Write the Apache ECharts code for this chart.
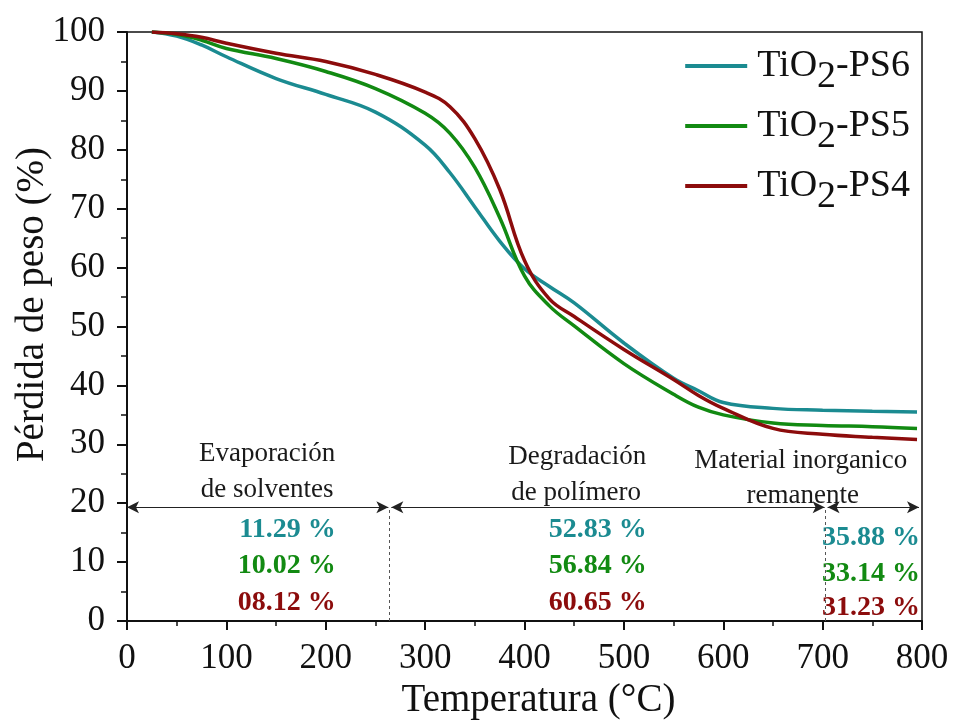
<!DOCTYPE html>
<html><head><meta charset="utf-8">
<script src="https://cdn.jsdelivr.net/npm/echarts@6/dist/echarts.min.js"></script>
<style>html,body{margin:0;padding:0;background:#fff}#c{width:955px;height:720px}</style>
</head><body><div id="c"></div>
<script>
const temps = [25, 50, 75, 100, 150, 200, 250, 300, 325, 350, 375, 400, 425, 450, 500, 550, 575, 600, 650, 700, 750, 795];
const ps6 = [100, 99.3, 97.8, 95.8, 92.1, 89.4, 86.4, 80.8, 76.1, 70.3, 64.5, 59.8, 56.8, 54.0, 47.2, 41.2, 39.1, 37.1, 36.1, 35.8, 35.6, 35.5];
const ps5 = [100, 99.6, 98.6, 97.2, 95.5, 93.3, 90.4, 86.2, 82.8, 77.0, 68.5, 58.6, 53.5, 50.1, 43.7, 38.5, 36.3, 35.0, 33.6, 33.2, 33.0, 32.7];
const ps4 = [100, 99.7, 99.1, 98.1, 96.4, 95.0, 92.8, 89.8, 87.3, 81.9, 73.3, 61.2, 54.7, 51.7, 46.1, 41.0, 38.3, 36.1, 32.7, 31.7, 31.2, 30.8];
const seriesNames = ['TiO2-PS6', 'TiO2-PS5', 'TiO2-PS4'];
const colors = ['#1b8b91', '#128a12', '#8c0c0c'];
const xTicks = [0, 100, 200, 300, 400, 500, 600, 700, 800];
const yTicks = [0, 10, 20, 30, 40, 50, 60, 70, 80, 90, 100];
// annotation content
const stageLines = [[0, 263], [266, 702], [705, 797]];
const stageY = 19.3;
const dividers = [264, 703];
const stageTitles = [
  [141, 28.4, 'Evaporación'], [141, 22.3, 'de solventes'],
  [453, 27.9, 'Degradación'], [452, 21.7, 'de polímero'],
  [678, 27.2, 'Material inorganico'], [680, 21.2, 'remanente']
];
const pctCol1 = ['11.29 %', '10.02 %', '08.12 %'];
const pctCol2 = ['52.83 %', '56.84 %', '60.65 %'];
const pctCol3 = ['35.88 %', '33.14 %', '31.23 %'];
const pctRows12 = [15.5, 9.35, 3.1];
const pctRows3 = [14.1, 8.0, 2.2];
const pctRight = [210, 523, 798];

const font = 'Liberation Serif';
const chart = echarts.init(document.getElementById('c'), null, {renderer: 'canvas'});
const curves = [ps6, ps5, ps4].map((vals, i) => ({
  name: seriesNames[i], type: 'line', smooth: 0.4, showSymbol: false, symbol: 'none',
  lineStyle: {color: colors[i], width: 3.5}, itemStyle: {color: colors[i]},
  data: temps.map((t, j) => [t, vals[j]]), z: 3
}));
const pctData = [];
[pctCol1, pctCol2, pctCol3].forEach((col, c) => {
  col.forEach((txt, r) => {
    pctData.push({value: [pctRight[c], c === 2 ? pctRows3[r] : pctRows12[r]], txt: txt,
      label: {color: colors[r]}});
  });
});
const series = curves.concat([
  {
    type: 'line', data: [], silent: true,
    markLine: {
      silent: true, symbol: ['arrow', 'arrow'], symbolSize: [9, 12],
      lineStyle: {color: '#222', width: 1.2, type: 'solid'}, label: {show: false},
      data: stageLines.map(s => [{coord: [s[0], stageY]}, {coord: [s[1], stageY]}])
    }
  },
  {
    type: 'line', data: [], silent: true,
    markLine: {
      silent: true, symbol: ['none', 'none'],
      lineStyle: {color: '#555', width: 1, type: [3, 3]}, label: {show: false},
      data: dividers.map(d => [{coord: [d, 0]}, {coord: [d, stageY]}])
    }
  },
  {
    type: 'scatter', symbolSize: 0, silent: true, clip: false, itemStyle: {opacity: 1},
    data: stageTitles.map(s => ({value: [s[0], s[1]], txt: s[2]})),
    label: {show: true, position: 'inside', align: 'center', verticalAlign: 'middle',
      fontFamily: font, fontSize: 27, color: '#1a1a1a', formatter: p => p.data.txt}
  },
  {
    type: 'scatter', symbolSize: 0, silent: true, clip: false, itemStyle: {opacity: 1},
    data: pctData,
    label: {show: true, position: 'inside', align: 'right', verticalAlign: 'middle',
      fontFamily: font, fontSize: 28, fontWeight: 'bold', formatter: p => p.data.txt}
  }
]);
const legendTops = [31, 91, 151];
const legends = seriesNames.map((n, i) => ({
  data: [{name: n, icon: 'rect', itemStyle: {color: colors[i]}}],
  orient: 'vertical', right: 40, top: legendTops[i], itemWidth: 62, itemHeight: 4,
  selectedMode: false,
  formatter: nm => {
    const parts = nm.split('O2');
    return '{a|' + parts[0] + 'O}{s|2}{a|' + parts[1] + '}';
  },
  textStyle: {fontFamily: font, fontSize: 38, color: '#111', padding: [0, 0, 0, 5],
    rich: {
      a: {fontFamily: font, fontSize: 38, color: '#111', lineHeight: 40},
      s: {fontFamily: font, fontSize: 38, color: '#111', lineHeight: 40, padding: [22, 0, 0, 0]}
    }}
}));
chart.setOption({
  animation: false,
  backgroundColor: '#fff',
  grid: {left: 127, right: 33, top: 32, bottom: 99, containLabel: false, outerBoundsMode: 'none',
    show: true, borderColor: '#111', borderWidth: 1.5, backgroundColor: 'transparent'},
  legend: legends,
  xAxis: {
    type: 'value', min: 0, max: 800, interval: 100,
    name: 'Temperatura (°C)', nameLocation: 'middle', nameGap: 60, nameMoveOverlap: false,
    nameTextStyle: {fontFamily: font, fontSize: 39, color: '#111', padding: [0, 0, 0, 28]},
    axisLine: {show: true, lineStyle: {color: '#111', width: 2}},
    axisTick: {show: true, inside: false, length: 9, lineStyle: {color: '#111', width: 2}},
    minorTick: {show: true, splitNumber: 2, length: 5, lineStyle: {color: '#111', width: 1.5}},
    axisLabel: {fontFamily: font, fontSize: 35, color: '#111', margin: 20},
    splitLine: {show: false}
  },
  yAxis: {
    type: 'value', min: 0, max: 100, interval: 10,
    name: 'Pérdida de peso (%)', nameLocation: 'middle', nameGap: 75, nameRotate: 90, nameMoveOverlap: false,
    nameTextStyle: {fontFamily: font, fontSize: 39, color: '#111', padding: [0, 0, 0, 44]},
    axisLine: {show: true, lineStyle: {color: '#111', width: 2}},
    axisTick: {show: true, inside: false, length: 10, lineStyle: {color: '#111', width: 2}},
    minorTick: {show: true, splitNumber: 2, length: 6, lineStyle: {color: '#111', width: 1.5}},
    axisLabel: {fontFamily: font, fontSize: 35, color: '#111', margin: 22},
    splitLine: {show: false}
  },
  series: series
});
</script></body></html>
